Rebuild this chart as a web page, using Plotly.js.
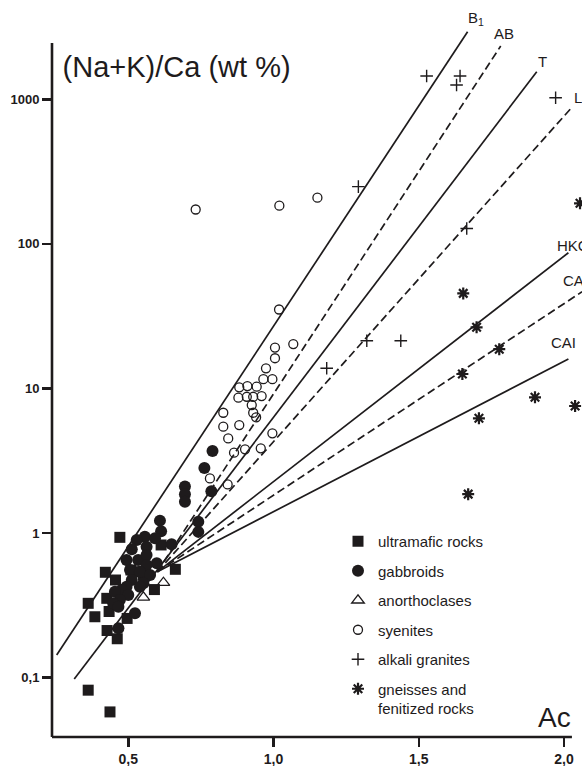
<!DOCTYPE html>
<html>
<head>
<meta charset="utf-8">
<script src="https://cdn.plot.ly/plotly-3.0.1.min.js"></script>
<style>html,body{margin:0;padding:0;background:#fff}#chart{width:582px;height:766px}</style>
</head>
<body>
<div id="chart"></div>
<script>
// ---- data (Ac vs (Na+K)/Ca, wt %) ----
var ultramaficX = [0.471,0.421,0.362,0.385,0.427,0.462,0.434,0.426,0.456,0.509,0.496,0.590,0.613,0.662,0.362,0.437,0.552,0.530];
var ultramaficY = [0.935,0.536,0.327,0.264,0.212,0.186,0.287,0.354,0.474,0.556,0.257,0.407,0.828,0.562,0.082,0.058,0.513,0.540];

var gabbroX = [0.790,0.762,0.695,0.695,0.695,0.786,0.741,0.741,0.609,0.613,0.557,0.529,0.512,0.563,0.592,0.649,0.494,0.534,0.563,0.598,0.563,0.506,0.540,0.512,0.575,0.552,0.494,0.477,0.454,0.500,0.471,0.448,0.540,0.523,0.466,0.466];
var gabbroY = [3.70,2.82,2.10,1.86,1.65,1.95,1.20,1.02,1.22,1.03,0.944,0.896,0.773,0.805,0.921,0.837,0.652,0.652,0.706,0.618,0.601,0.556,0.541,0.474,0.513,0.450,0.426,0.404,0.393,0.373,0.345,0.327,0.426,0.279,0.220,0.310];

var anorthoX = [0.552,0.621];
var anorthoY = [0.360,0.454];

var syeniteX = [0.732,1.020,1.151,1.019,1.068,1.005,1.005,0.974,0.965,0.996,0.942,0.910,0.882,0.879,0.908,0.930,0.959,0.925,0.930,0.940,0.827,0.882,0.827,0.844,0.996,0.902,0.864,0.956,0.781,0.842];
var syeniteY = [173,184,209,35.2,20.3,19.2,16.2,13.8,11.6,11.6,10.3,10.4,10.2,8.64,8.77,8.77,8.87,7.69,6.80,6.32,6.80,5.59,5.45,4.52,4.90,3.80,3.60,3.86,2.39,2.17];

var graniteX = [1.527,1.642,1.630,1.292,1.971,1.665,1.321,1.438,1.183];
var graniteY = [1449,1449,1256,249,1026,128,21.4,21.4,13.8];

var gneissX = [1.653,1.699,1.777,1.650,1.900,2.038,1.707,1.670,2.055];
var gneissY = [45.5,26.5,18.7,12.6,8.69,7.57,6.22,1.86,191];

// reference lines (end points)
var lineNames = ["B1","AB","T","L","HKC","CA","CAI"];
var lineX = [[0.2535,1.668],[0.600,1.782],[0.314,1.906],[0.600,2.024],[0.600,2.015],[0.600,2.062],[0.600,2.015]];
var lineY = [[0.1435,2930],[0.540,2339],[0.098,1552],[0.540,867],[0.540,86.9],[0.540,46.7],[0.540,16.0]];
var lineDash = ["solid","8px,4px","solid","8px,4px","solid","8px,4px","solid"];

var xTickVals = [0.5,1.0,1.5,2.0];
var xTickText = ["0,5","1,0","1,5","2,0"];
var yTickVals = [0.1,1,10,100,1000];
var yTickText = ["0,1","1","10","100","1000"];

// ---- build ----
var INK = "#1e1b1c";
var FONT = "Liberation Sans, Arial, Helvetica, sans-serif";
var traces = [];
for (var i = 0; i < lineNames.length; i++) {
  traces.push({x: lineX[i], y: lineY[i], mode: "lines", name: lineNames[i], showlegend: false,
    hoverinfo: "skip", line: {color: INK, width: 1.7, dash: lineDash[i]}});
}
function pts(x, y, name, sym, size, lw, grp) {
  return {x: x, y: y, mode: "markers", name: name, legendgroup: grp,
    marker: {symbol: sym, size: size, color: INK, line: {color: INK, width: lw}}};
}
traces.push(pts(ultramaficX, ultramaficY, "ultramafic rocks", "square", 11, 0, "g1"));
traces.push(pts(gabbroX, gabbroY, "gabbroids", "circle", 12, 0, "g2"));
traces.push(pts(anorthoX, anorthoY, "anorthoclases", "triangle-up-open", 11, 1.3, "g3"));
traces.push(pts(syeniteX, syeniteY, "syenites", "circle-open", 9, 1.3, "g4"));
traces.push(pts(graniteX, graniteY, "alkali granites", "cross-thin-open", 9, 1.4, "g5"));
traces.push(pts(gneissX, gneissY, "gneisses and<br>fenitized rocks", "asterisk-open", 10, 2.2, "g6"));

function ann(text, px, py, size) {
  return {text: text, xref: "paper", yref: "paper", x: (px - 52) / 530, y: (737 - py) / 737,
    xanchor: "left", yanchor: "middle", showarrow: false, font: {family: FONT, size: size, color: INK}};
}

var layout = {
  width: 582, height: 766,
  margin: {l: 52, r: 0, t: 0, b: 29},
  paper_bgcolor: "#fff", plot_bgcolor: "#fff",
  font: {family: FONT, color: INK},
  title: {text: "(Na+K)/Ca (wt %)", xref: "paper", x: 0.02, xanchor: "left",
    yref: "container", y: 1 - 67 / 766, yanchor: "middle", font: {family: FONT, size: 29, color: INK}},
  xaxis: {range: [0.2374, 2.0618], showgrid: false, zeroline: false, showline: false,
    ticks: "outside", ticklen: 9, tickwidth: 2.5, tickcolor: INK,
    tickvals: xTickVals, ticktext: xTickText,
    tickfont: {family: FONT, size: 14, weight: "bold", color: INK}},
  yaxis: {type: "log", range: [-1.410, 3.687], showgrid: false, zeroline: false, showline: false,
    ticks: "outside", ticklen: 9, tickwidth: 2.5, tickcolor: INK,
    tickvals: yTickVals, ticktext: yTickText,
    tickfont: {family: FONT, size: 13, weight: "bold", color: INK}},
  shapes: [
    {type: "line", xref: "paper", yref: "paper", x0: 0, x1: 0.981, y0: 0, y1: 0, line: {color: INK, width: 2.6}},
    {type: "line", xref: "paper", yref: "paper", x0: 0, x1: 0, y0: 0, y1: 0.9417, line: {color: INK, width: 2.6}}
  ],
  legend: {x: (338 - 52) / 530, y: (737 - 525) / 737, xanchor: "left", yanchor: "top",
    bgcolor: "rgba(0,0,0,0)", font: {family: FONT, size: 15, color: INK},
    tracegroupgap: 7, valign: "top", itemclick: false},
  annotations: [
    ann("B<sub>1</sub>", 466, 18, 15),
    ann("AB", 492, 33, 15),
    ann("T", 536, 62, 15),
    ann("L", 571.5, 98, 15),
    ann("HKC", 555, 245, 15),
    ann("CA", 560.5, 280, 15),
    ann("CAI", 549, 342, 15),
    ann("Ac", 536, 717, 28)
  ]
};

Plotly.newPlot("chart", traces, layout, {displayModeBar: false, staticPlot: true});
</script>
</body>
</html>
